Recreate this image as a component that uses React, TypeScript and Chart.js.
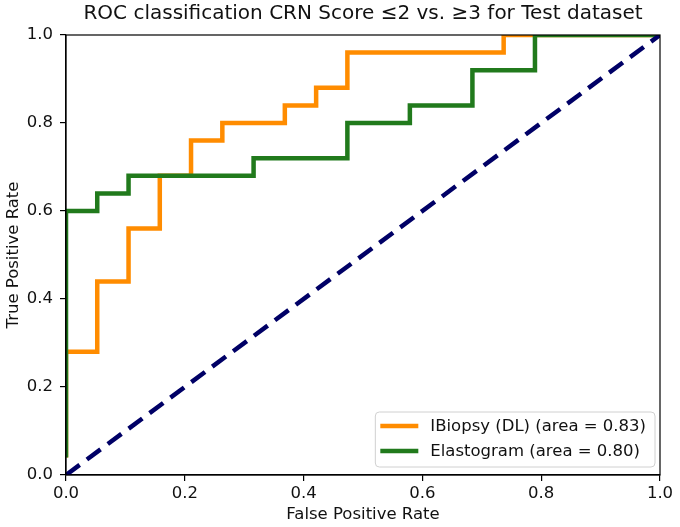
import React, { useEffect, useRef } from "react";
import { Chart, registerables } from "chart.js";

Chart.register(...registerables);

const titleText = "ROC classification CRN Score ≤2 vs. ≥3 for Test dataset";
const xAxisLabel = "False Positive Rate";
const yAxisLabel = "True Positive Rate";
const tickValues = [0, 0.2, 0.4, 0.6, 0.8, 1.0];

const biopsyLabel = "IBiopsy (DL) (area = 0.83)";
const biopsyFpr = [0, 0, 0.0526, 0.0526, 0.1053, 0.1053, 0.1579, 0.1579, 0.2105, 0.2105, 0.2632, 0.2632, 0.3684, 0.3684, 0.4211, 0.4211, 0.4737, 0.4737, 0.7368, 0.7368, 1.0];
const biopsyTpr = [0.04, 0.28, 0.28, 0.44, 0.44, 0.56, 0.56, 0.68, 0.68, 0.76, 0.76, 0.8, 0.8, 0.84, 0.84, 0.88, 0.88, 0.96, 0.96, 1.0, 1.0];

const elastoLabel = "Elastogram (area = 0.80)";
const elastoFpr = [0, 0, 0.0526, 0.0526, 0.1053, 0.1053, 0.3158, 0.3158, 0.4737, 0.4737, 0.5789, 0.5789, 0.6842, 0.6842, 0.7895, 0.7895, 1.0];
const elastoTpr = [0.04, 0.6, 0.6, 0.64, 0.64, 0.68, 0.68, 0.72, 0.72, 0.8, 0.8, 0.84, 0.84, 0.92, 0.92, 1.0, 1.0];

const chanceX = [0, 1];
const chanceY = [0, 1];

const FONT = "'DejaVu Sans', sans-serif";
const TEXT = "#111";

const toPoints = (xs: number[], ys: number[]) => xs.map((x, i) => ({ x, y: ys[i] }));

const framePlugin = {
  id: "frame",
  afterDatasetsDraw(chart: any) {
    const { ctx, chartArea: a } = chart;
    ctx.save();
    ctx.strokeStyle = "#000";
    ctx.lineWidth = 1.2;
    ctx.strokeRect(a.left, a.top, a.right - a.left, a.bottom - a.top);
    ctx.restore();
  },
};

const axesTitlePlugin = {
  id: "axesTitle",
  afterDraw(chart: any) {
    const { ctx, chartArea: a } = chart;
    ctx.save();
    ctx.font = `20px ${FONT}`;
    ctx.fillStyle = TEXT;
    ctx.textAlign = "center";
    ctx.textBaseline = "middle";
    ctx.fillText(titleText, (a.left + a.right) / 2, 14);
    ctx.restore();
  },
};

const legendPlugin = {
  id: "boxLegend",
  afterDraw(chart: any) {
    const { ctx, chartArea: a } = chart;
    const items = chart.data.datasets.filter((d: any) => !d.hideInLegend);
    ctx.save();
    ctx.font = `16.5px ${FONT}`;
    const textW = Math.max(...items.map((d: any) => ctx.measureText(d.label).width));
    const w = 5 + 38 + 12 + textW + 9;
    const h = 55;
    const right = a.right - 5;
    const bottom = a.bottom - 8;
    const left = right - w;
    const top = bottom - h;
    ctx.beginPath();
    const r = 4;
    ctx.moveTo(left + r, top);
    ctx.arcTo(right, top, right, bottom, r);
    ctx.arcTo(right, bottom, left, bottom, r);
    ctx.arcTo(left, bottom, left, top, r);
    ctx.arcTo(left, top, right, top, r);
    ctx.closePath();
    ctx.fillStyle = "rgba(255,255,255,0.85)";
    ctx.fill();
    ctx.strokeStyle = "#d0d0d0";
    ctx.lineWidth = 1;
    ctx.stroke();
    items.forEach((d: any, i: number) => {
      const y = top + 14 + i * 25;
      ctx.beginPath();
      ctx.strokeStyle = d.borderColor;
      ctx.lineWidth = d.borderWidth;
      ctx.moveTo(left + 5, y);
      ctx.lineTo(left + 43, y);
      ctx.stroke();
      ctx.fillStyle = TEXT;
      ctx.textBaseline = "middle";
      ctx.textAlign = "left";
      ctx.fillText(d.label, left + 55, y + 1);
    });
    ctx.restore();
  },
};

export default function App() {
  const ref = useRef<HTMLCanvasElement>(null);
  useEffect(() => {
    document.body.style.margin = "0";
    const tickFont = { family: FONT, size: 16.5 };
    const chart = new Chart(ref.current!, {
      type: "scatter",
      data: {
        datasets: [
          {
            label: biopsyLabel,
            data: toPoints(biopsyFpr, biopsyTpr),
            showLine: true,
            borderColor: "#ff8c00",
            backgroundColor: "#ff8c00",
            borderWidth: 4.5,
            pointRadius: 0,
            order: 2,
          } as any,
          {
            label: elastoLabel,
            data: toPoints(elastoFpr, elastoTpr),
            showLine: true,
            borderColor: "#217a1c",
            backgroundColor: "#217a1c",
            borderWidth: 4.5,
            pointRadius: 0,
            order: 1,
          },
          {
            label: "chance",
            hideInLegend: true,
            data: toPoints(chanceX, chanceY),
            showLine: true,
            borderColor: "#000066",
            borderWidth: 4.5,
            borderDash: [17, 9],
            pointRadius: 0,
            order: 0,
          },
        ],
      },
      options: {
        animation: false,
        responsive: false,
        layout: { padding: { left: 0, right: 20, top: 35, bottom: 0 } },
        plugins: {
          legend: { display: false },
          tooltip: { enabled: false },
          title: { display: false },
        },
        scales: {
          x: {
            type: "linear",
            min: 0,
            max: 1,
            afterFit: (s: any) => { s.height = 52; },
            afterBuildTicks: (s: any) => { s.ticks = tickValues.map((v) => ({ value: v })); },
            ticks: {
              color: TEXT,
              font: tickFont,
              padding: 3,
              maxRotation: 0,
              callback: (v: any) => Number(v).toFixed(1),
            },
            grid: { drawOnChartArea: false, drawTicks: true, tickLength: 6, color: "#000", lineWidth: 1.2 },
            border: { display: true, color: "#000", width: 1.2 },
            title: {
              display: true,
              text: xAxisLabel,
              color: TEXT,
              font: tickFont,
              padding: { top: 0, bottom: 2 },
            },
          },
          y: {
            type: "linear",
            min: 0,
            max: 1,
            afterFit: (s: any) => { s.width = 66; },
            afterBuildTicks: (s: any) => { s.ticks = tickValues.map((v) => ({ value: v })); },
            ticks: {
              color: TEXT,
              font: tickFont,
              padding: 7,
              callback: (v: any) => Number(v).toFixed(1),
            },
            grid: { drawOnChartArea: false, drawTicks: true, tickLength: 6, color: "#000", lineWidth: 1.2 },
            border: { display: true, color: "#000", width: 1.2 },
            title: {
              display: true,
              text: yAxisLabel,
              color: TEXT,
              font: tickFont,
              padding: { top: 4, bottom: 0 },
            },
          },
        },
      } as any,
      plugins: [framePlugin, axesTitlePlugin, legendPlugin],
    });
    return () => chart.destroy();
  }, []);
  return <canvas ref={ref} width={680} height={527} style={{ display: "block" }} />;
}
